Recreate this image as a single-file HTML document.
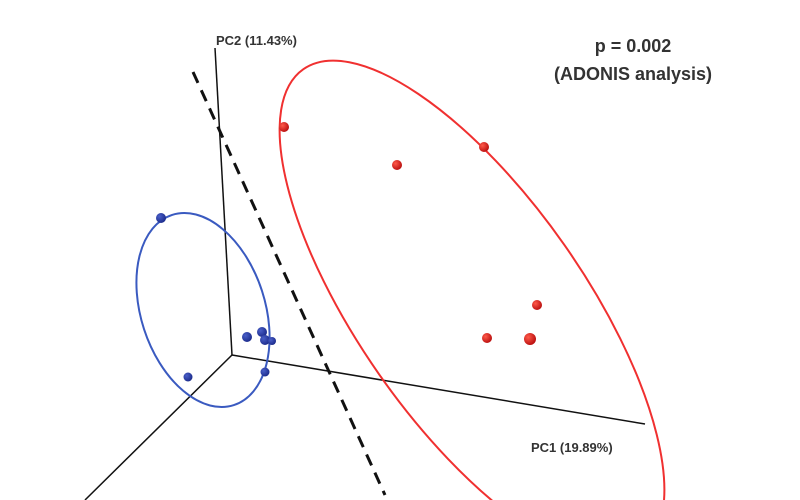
<!DOCTYPE html>
<html><head><meta charset="utf-8"><style>
html,body{margin:0;padding:0;background:#fff;width:800px;height:500px;overflow:hidden}
</style></head><body>
<svg width="800" height="500" viewBox="0 0 800 500" xmlns="http://www.w3.org/2000/svg" font-family="Liberation Sans, sans-serif" style="display:block">
<defs>
<radialGradient id="rg" cx="0.35" cy="0.35" r="0.7"><stop offset="0" stop-color="#ff5a4a"/><stop offset="1" stop-color="#b80d0d"/></radialGradient>
<radialGradient id="bg" cx="0.35" cy="0.35" r="0.7"><stop offset="0" stop-color="#4a5fc8"/><stop offset="1" stop-color="#1a2a8a"/></radialGradient>
</defs>
<g stroke="#111" stroke-width="1.5" fill="none">
<line x1="215" y1="48" x2="232" y2="355"/>
<line x1="232" y1="355" x2="645" y2="424"/>
<line x1="232" y1="355" x2="85" y2="500"/>
</g>
<line x1="193" y1="72" x2="385" y2="495" stroke="#111" stroke-width="3" stroke-dasharray="12,8"/>
<ellipse cx="203" cy="310" rx="62" ry="100" transform="rotate(-18 203 310)" fill="none" stroke="#3a5ac0" stroke-width="2"/>
<ellipse cx="472" cy="310" rx="294" ry="113" transform="rotate(55 472 310)" fill="none" stroke="#f03030" stroke-width="2"/>
<g fill="url(#rg)">
<circle cx="284" cy="127" r="5"/><circle cx="397" cy="165" r="5"/><circle cx="484" cy="147" r="5"/>
<circle cx="537" cy="305" r="5"/><circle cx="487" cy="338" r="5"/><circle cx="530" cy="339" r="6"/>
</g>
<g fill="url(#bg)">
<circle cx="161" cy="218" r="5"/><circle cx="247" cy="337" r="5"/><circle cx="262" cy="332" r="5"/>
<circle cx="265" cy="340" r="5"/><circle cx="272" cy="341" r="4"/><circle cx="188" cy="377" r="4.5"/><circle cx="265" cy="372" r="4.5"/>
</g>
<g fill="#333" font-weight="bold">
<text x="216" y="45" font-size="13">PC2 (11.43%)</text>
<text x="531" y="452" font-size="13">PC1 (19.89%)</text>
<text x="633" y="52" font-size="18" text-anchor="middle">p = 0.002</text>
<text x="633" y="80" font-size="18" text-anchor="middle">(ADONIS analysis)</text>
</g>
</svg>
</body></html>
